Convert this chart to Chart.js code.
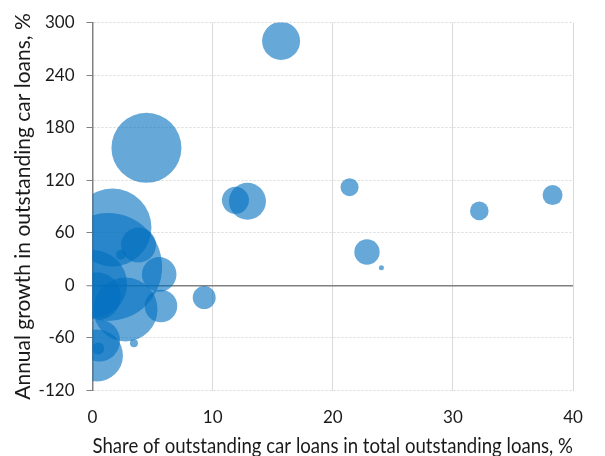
<!DOCTYPE html>
<html>
<head>
<meta charset="utf-8">
<script src="https://cdn.jsdelivr.net/npm/chart.js@4"></script>
<style>
  html, body { margin: 0; padding: 0; background: #ffffff; }
  #wrap { width: 605px; height: 456px; }
</style>
</head>
<body>
<div id="wrap"><canvas id="c" width="605" height="456"></canvas></div>
<script>
// Share of outstanding car loans in total outstanding loans, %
const shareX = [15.7, 4.49, 11.9, 12.9, 21.4, 22.85, 24.05, 32.2, 38.3, 9.3,
                1.66, 1.3, 3.83, 2.37, 5.55, 5.7, 2.75, 0.05, 0.37, 0.55, 0.37, 0.48, 3.45];
// Annual growth in outstanding car loans, %
const growthY = [279, 157, 97, 96, 112, 38, 20, 85, 103, -14,
                 66, 21, 46, 35, 12.5, -23.5, -27.5, 1.5, -12.5, -63, -80, -72, -66];
// Bubble radius
const bubbleRadius = [19, 35, 13.5, 18.5, 9, 12.7, 2.5, 9.3, 10, 11.5,
                      39, 54, 17.5, 5, 17.3, 16.3, 32, 34, 24, 21, 26, 6, 4];
const xTicks = [0, 10, 20, 30, 40];
const yTicks = [-120, -60, 0, 60, 120, 180, 240, 300];

const points = shareX.map((x, i) => ({ x: x, y: growthY[i], r: bubbleRadius[i] }));

const FONT = 'Lato, "Open Sans", sans-serif';
const TXT = '#1a1a1a';

new Chart(document.getElementById('c'), {
  type: 'bubble',
  data: {
    datasets: [{
      data: points,
      backgroundColor: 'rgba(0,112,192,0.6)',
      borderWidth: 0,
      hoverBorderWidth: 0,
      clip: 0
    }]
  },
  options: {
    responsive: false,
    animation: false,
    events: [],
    layout: { autoPadding: false, padding: { left: 11, right: 32, top: 22.5, bottom: 0 } },
    plugins: { legend: { display: false }, tooltip: { enabled: false } },
    scales: {
      x: {
        type: 'linear',
        min: xTicks[0], max: xTicks[xTicks.length - 1],
        afterBuildTicks: s => { s.ticks = xTicks.map(v => ({ value: v })); },
        grid: { color: '#d9d9d9', lineWidth: 1, drawTicks: false },
        border: { display: false },
        ticks: { color: TXT, font: { family: FONT, size: 17 }, padding: 16.5, maxRotation: 0 },
        title: { display: true, text: 'Share of outstanding car loans in total outstanding loans, %',
                 color: TXT, font: { family: FONT, size: 21, lineHeight: 1 }, padding: { top: 0, bottom: -1 } },
        afterFit: s => { s.height = 65.5; s.paddingLeft = 0; s.paddingRight = 0; }
      },
      y: {
        type: 'linear',
        min: yTicks[0], max: yTicks[yTicks.length - 1],
        afterBuildTicks: s => { s.ticks = yTicks.map(v => ({ value: v })); },
        grid: {
          color: c => (c.tick && c.tick.value === 0) ? '#808080' : '#d9d9d9',
          lineWidth: c => (c.tick && c.tick.value === 0) ? 1.5 : 1,
          drawTicks: true, tickLength: 6, tickColor: '#808080', tickWidth: 1
        },
        border: { display: true, color: '#808080', width: 1.5,
                  dash: c => (c.tick && c.tick.value !== 0) ? [2, 2] : [] },
        ticks: { color: TXT, font: { family: FONT, size: 17 }, padding: 12 },
        title: { display: true, text: 'Annual growth in outstanding car loans, %',
                 color: TXT, font: { family: FONT, size: 21, lineHeight: 1.2 }, padding: { top: 0, bottom: 0 } },
        afterFit: s => { s.width = 81.5; s.paddingTop = 0; s.paddingBottom = 0; }
      }
    }
  }
});
</script>
</body>
</html>
